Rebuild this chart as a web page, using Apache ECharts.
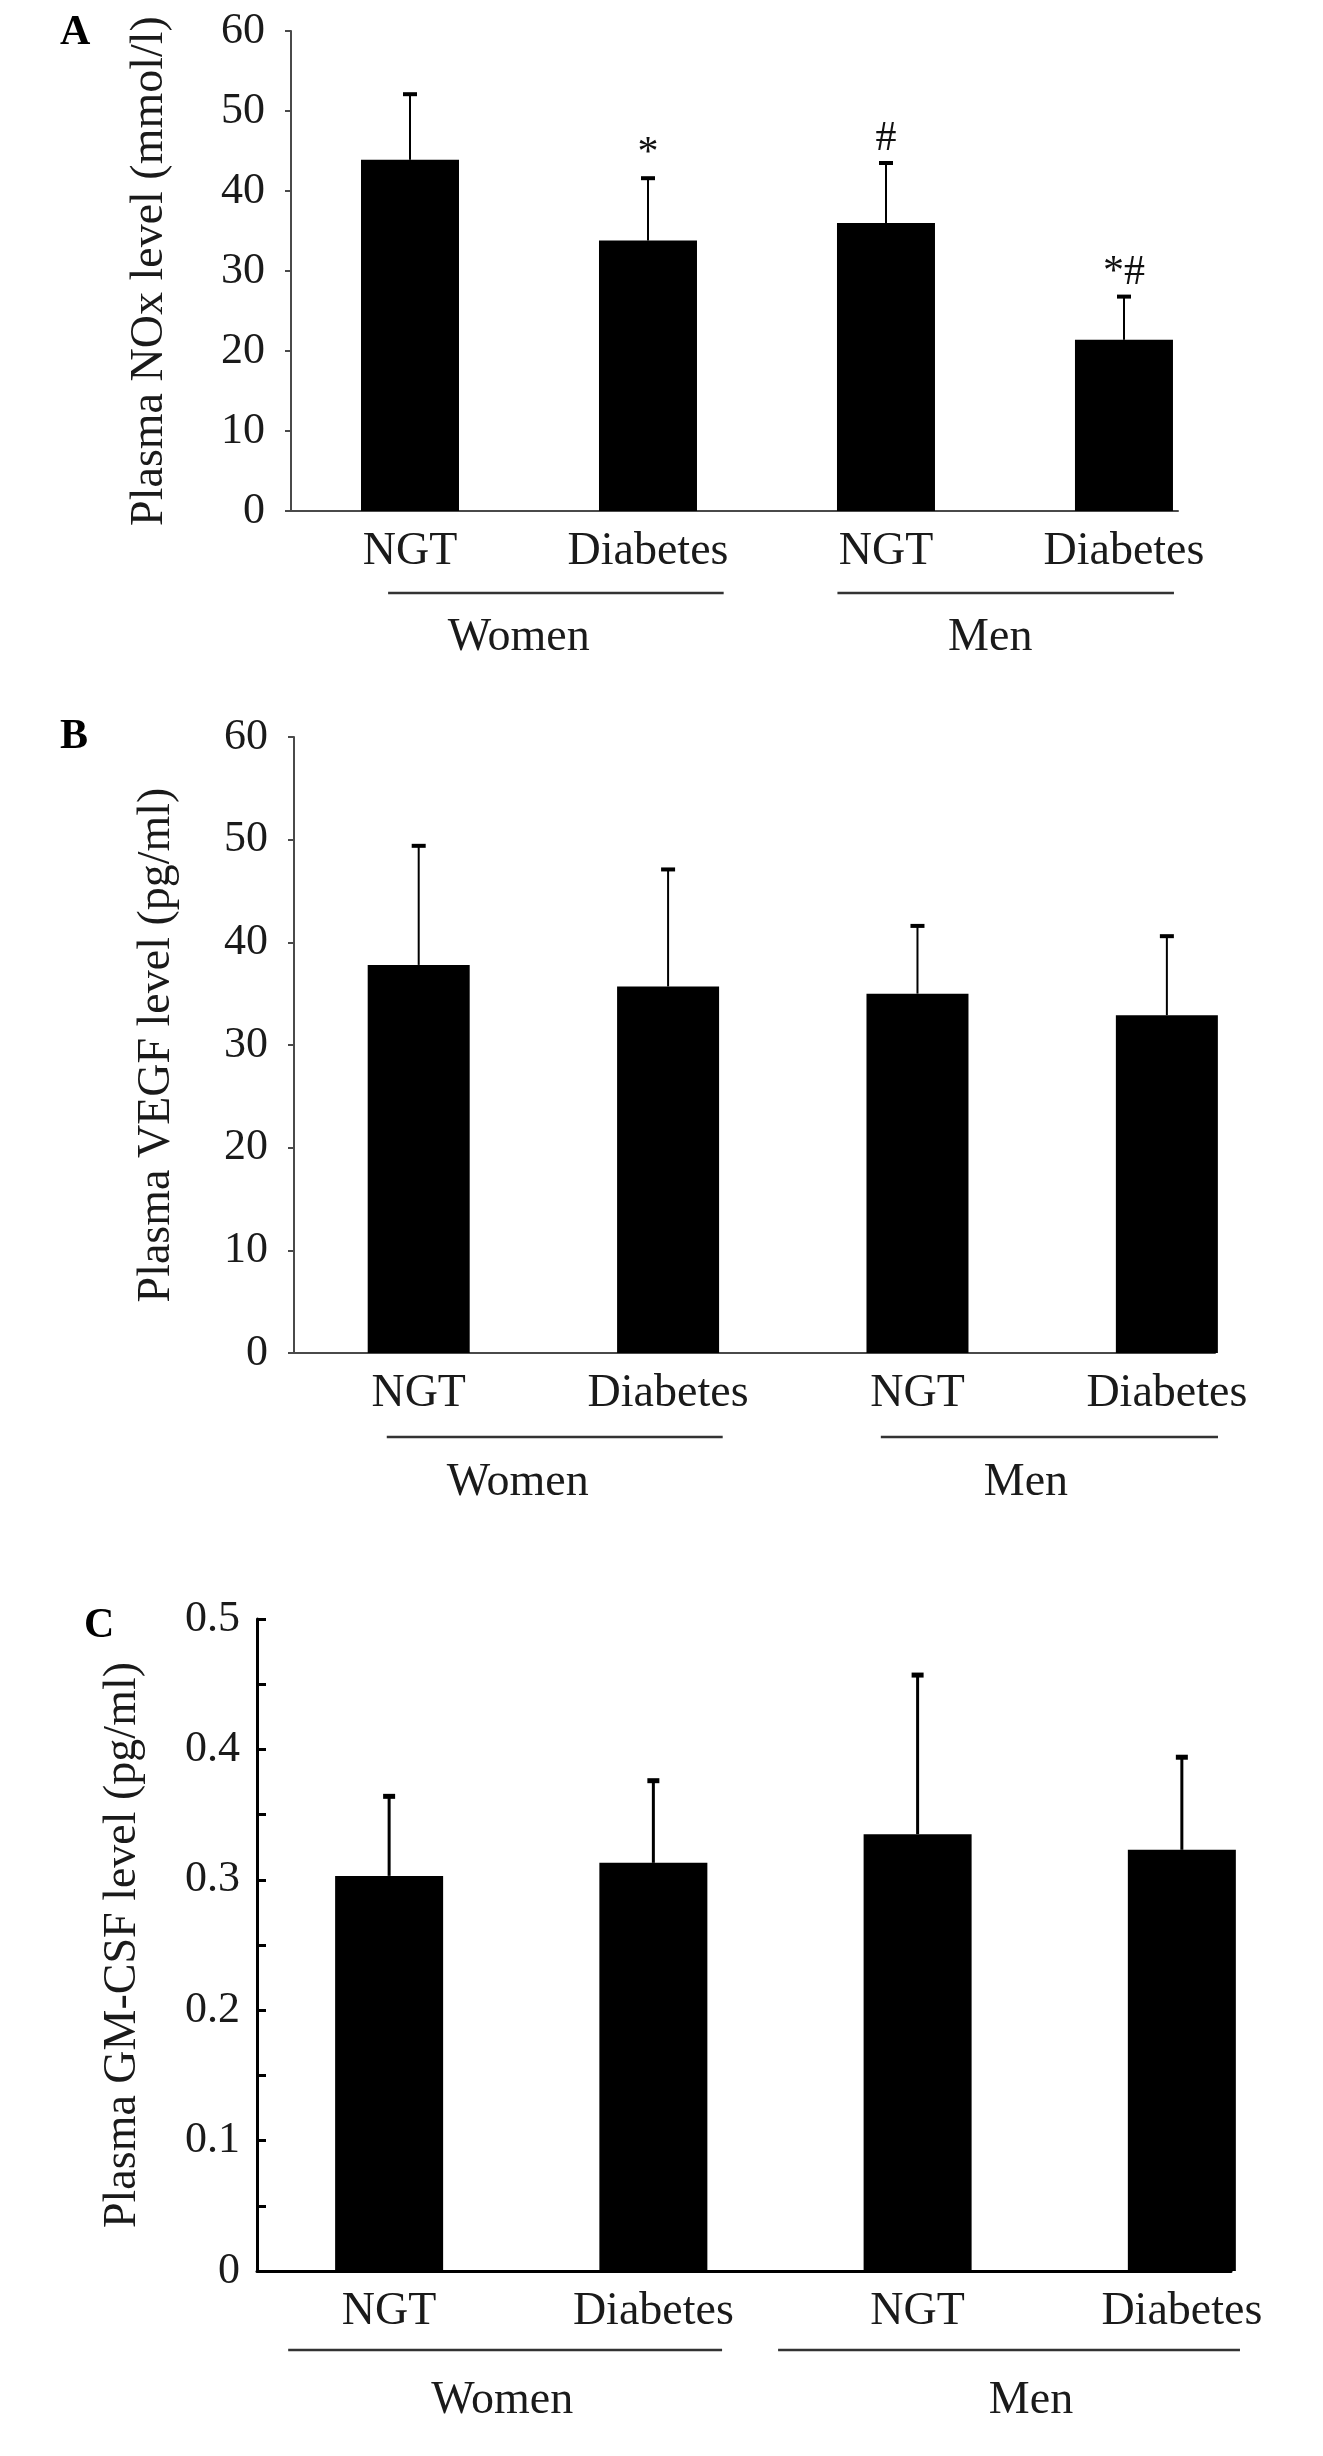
<!DOCTYPE html>
<html><head><meta charset="utf-8">
<script src="https://cdn.jsdelivr.net/npm/echarts@6/dist/echarts.min.js"></script>
<style>html,body{margin:0;padding:0;background:#fff}#c{width:1323px;height:2456px}</style>
</head><body><div id="c"></div>
<script>
// ---- data ----
const categories = ['NGT', 'Diabetes', 'NGT', 'Diabetes'];
const groupNames = ['Women', 'Men'];

const noxMean = [43.9, 33.8, 36.0, 21.4];
const noxSD   = [8.2, 7.8, 7.5, 5.4];
const noxSig  = ['', '*', '#', '*#'];

const vegfMean = [37.8, 35.7, 35.0, 32.9];
const vegfSD   = [11.6, 11.4, 6.6, 7.7];
const vegfSig  = ['', '', '', ''];

const gmcsfMean = [0.303, 0.313, 0.335, 0.323];
const gmcsfSD   = [0.061, 0.063, 0.122, 0.071];
const gmcsfSig  = ['', '', '', ''];

const yMaxes = [60, 60, 0.5];
const yIntervals = [10, 10, 0.1];
const yTitles = ['Plasma NOx level (mmol/l)', 'Plasma VEGF level (pg/ml)', 'Plasma GM-CSF level (pg/ml)'];
const panelLetters = ['A', 'B', 'C'];

// ---- layout / style ----
const FONT = '"Liberation Serif", "Times New Roman", serif';
const panels = [
  { mean: noxMean, sd: noxSD, sig: noxSig,
    grid: { left: 291, top: 31, width: 887, height: 480 }, xMax: 3.227, barWidth: 98,
    axisColor: '#4a4a4a', axisWidth: 2, tickInside: false, tickLen: 6, minor: false,
    nameGap: 118, labelMargin: 26, capHalf: 7, errWidth: 2,
    groups: [[-0.092, 1.318, 0.457], [1.796, 3.210, 2.438]], lineOffset: 82, textOffset: 127,
    letterPos: [60, 12] },
  { mean: vegfMean, sd: vegfSD, sig: vegfSig,
    grid: { left: 294, top: 737, width: 921, height: 616 }, xMax: 3.193, barWidth: 102,
    axisColor: '#4a4a4a', axisWidth: 2, tickInside: false, tickLen: 6, minor: false,
    nameGap: 114, labelMargin: 26, capHalf: 7, errWidth: 2,
    groups: [[-0.128, 1.219, 0.397], [1.853, 3.205, 2.435]], lineOffset: 84, textOffset: 130,
    letterPos: [60, 716] },
  { mean: gmcsfMean, sd: gmcsfSD, sig: gmcsfSig,
    grid: { left: 257, top: 1619, width: 974, height: 652 }, xMax: 3.186, barWidth: 108,
    axisColor: '#000', axisWidth: 3, tickInside: true, tickLen: 9, minor: true,
    nameGap: 111, labelMargin: 17, capHalf: 6, errWidth: 3,
    groups: [[-0.382, 1.260, 0.428], [1.472, 3.220, 2.429]], lineOffset: 79, textOffset: 130,
    letterPos: [84, 1605] }
];

const grids = [], xAxes = [], yAxes = [], series = [], graphics = [];
panels.forEach((p, i) => {
  grids.push(Object.assign({ containLabel: false }, p.grid));
  xAxes.push({
    type: 'value', gridIndex: i, min: -0.5, max: p.xMax,
    splitLine: { show: false },
    axisLine: { show: true, onZero: false, lineStyle: { color: p.axisColor, width: p.axisWidth } },
    axisTick: { show: false },
    axisLabel: {
      customValues: [0, 1, 2, 3],
      formatter: v => categories[Math.round(v)],
      margin: 18, fontSize: 46, color: '#1a1a1a', fontFamily: FONT
    }
  });
  yAxes.push({
    type: 'value', gridIndex: i, min: 0, max: yMaxes[i], interval: yIntervals[i],
    name: yTitles[i], nameLocation: 'middle', nameRotate: 90, nameGap: p.nameGap,
    nameTextStyle: { fontSize: 46, color: '#1a1a1a', fontFamily: FONT },
    splitLine: { show: false },
    axisLine: { show: true, onZero: false, lineStyle: { color: p.axisColor, width: p.axisWidth } },
    axisTick: { show: true, inside: p.tickInside, length: p.tickLen, lineStyle: { color: p.axisColor, width: p.axisWidth } },
    minorTick: { show: p.minor, splitNumber: 2, length: p.tickLen, lineStyle: { color: p.axisColor, width: p.axisWidth } },
    axisLabel: { margin: p.labelMargin, fontSize: 44, color: '#1a1a1a', fontFamily: FONT }
  });
  series.push({
    type: 'bar', xAxisIndex: i, yAxisIndex: i, barWidth: p.barWidth,
    itemStyle: { color: '#000' }, silent: true,
    data: p.mean.map((m, k) => [k, m])
  });
  series.push({
    type: 'custom', xAxisIndex: i, yAxisIndex: i, clip: false, silent: true, z: 3,
    data: p.mean.map((m, k) => [k, m, m + p.sd[k]]),
    renderItem(params, api) {
      const x = api.value(0);
      const b = api.coord([x, api.value(1)]);
      const t = api.coord([x, api.value(2)]);
      const ch = [
        { type: 'line', shape: { x1: b[0], y1: b[1], x2: t[0], y2: t[1] }, style: { stroke: '#000', lineWidth: p.errWidth } },
        { type: 'line', shape: { x1: t[0] - p.capHalf, y1: t[1], x2: t[0] + p.capHalf, y2: t[1] }, style: { stroke: '#000', lineWidth: p.errWidth + 2 } }
      ];
      const s = p.sig[params.dataIndex];
      if (s) ch.push({ type: 'text', style: { text: s, x: t[0], y: t[1] - 3, align: 'center', verticalAlign: 'bottom', font: '42px ' + FONT, fill: '#111' } });
      return { type: 'group', children: ch };
    }
  });
  series.push({
    type: 'custom', xAxisIndex: i, yAxisIndex: i, clip: false, silent: true,
    data: p.groups.map(g => [g[0], g[1], g[2]]),
    renderItem(params, api) {
      const a = api.coord([api.value(0), 0]);
      const b = api.coord([api.value(1), 0]);
      const c = api.coord([api.value(2), 0]);
      const y = a[1] + p.lineOffset;
      return { type: 'group', children: [
        { type: 'line', shape: { x1: a[0], y1: y, x2: b[0], y2: y }, style: { stroke: '#333', lineWidth: 2.5 } },
        { type: 'text', style: { text: groupNames[params.dataIndex], x: c[0], y: a[1] + p.textOffset, align: 'center', verticalAlign: 'middle', font: '46px ' + FONT, fill: '#1a1a1a' } }
      ] };
    }
  });
  graphics.push({ type: 'text', left: p.letterPos[0], top: p.letterPos[1],
    style: { text: panelLetters[i], font: 'bold 42px ' + FONT, fill: '#000' } });
});

const chart = echarts.init(document.getElementById('c'), null, { renderer: 'canvas' });
chart.setOption({
  animation: false,
  backgroundColor: '#fff',
  textStyle: { fontFamily: FONT },
  grid: grids, xAxis: xAxes, yAxis: yAxes, series: series, graphic: graphics
});
</script>
</body></html>
